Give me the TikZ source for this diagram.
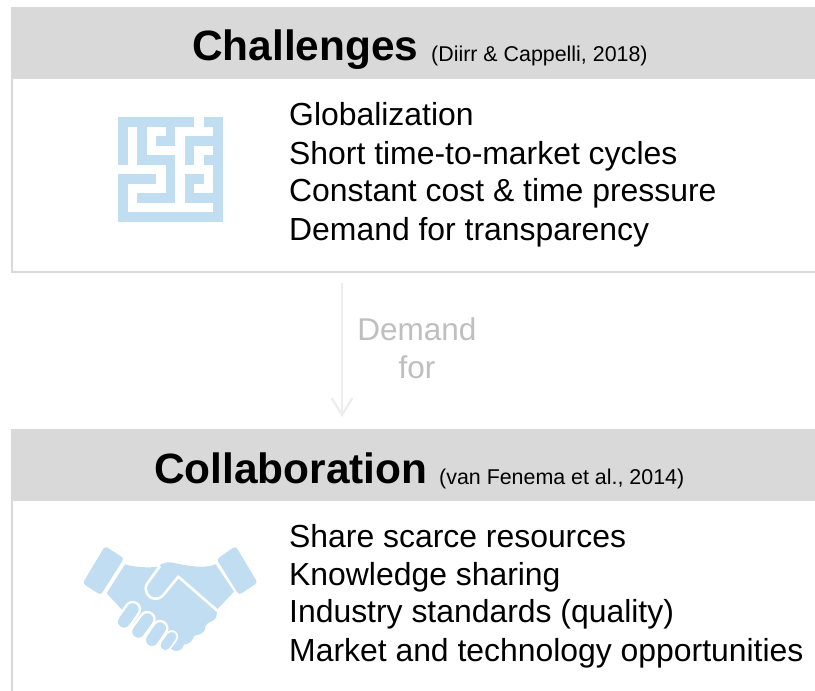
\documentclass[tikz,border=0pt]{standalone}
\usepackage{fontspec}
\setmainfont{Liberation Sans}
\usetikzlibrary{arrows.meta}
\definecolor{hdr}{HTML}{D9D9D9}
\definecolor{icon}{HTML}{C1DDF1}
\definecolor{arr}{HTML}{EDEDED}
\definecolor{lbl}{HTML}{BFBFBF}
\tikzset{
  hdrbox/.style={fill=hdr,draw=none},
  frameline/.style={draw=hdr,line width=2pt},
  ttl/.style={anchor=base west,inner sep=0pt,font=\fontsize{42.4}{42.4}\selectfont\bfseries},
  cite/.style={anchor=base west,inner sep=0pt,font=\fontsize{21.4}{21.4}\selectfont},
  item/.style={anchor=base west,inner sep=0pt,font=\fontsize{31.9}{31.9}\selectfont},
  dem/.style={anchor=base,inner sep=0pt,text=lbl,font=\fontsize{31.5}{31.5}\selectfont},
  flow/.style={draw=arr,line width=2.2pt,-{Straight Barb[length=17pt,width=21pt,line width=2.2pt]}},
  mz/.style={fill=icon,draw=none},
  finger/.style={line cap=round,draw=icon,line width=12pt},
  halo/.style={line cap=round,draw=white,line width=17pt},
  gap/.style={draw=white,line width=2.6pt}
}
\begin{document}
\begin{tikzpicture}[x=1pt,y=-1pt]
\useasboundingbox (0,0) rectangle (815,691);
\fill[white] (0,0) rectangle (815,691);
% box 1
\node[hdrbox,anchor=north west,minimum width=804pt,minimum height=72pt,inner sep=0pt] (h1) at (11,7) {};
\coordinate (b1l) at (12,272);
\coordinate (b1r) at (815,272);
\draw[frameline] (h1.south west -| b1l) -- (b1l) -- (b1r);
\node[ttl] (t1) at (192,60.5) {Challenges};
\node[cite] (c1) at (431,61.5) {(Diirr \& Cappelli, 2018)};
\node[item] (a1) at (289,125.5) {Globalization};
\node[item] (a2) at (289,164) {Short time-to-market cycles};
\node[item] (a3) at (289,201) {Constant cost \& time pressure};
\node[item] (a4) at (289,240) {Demand for transparency};
% maze
\begin{scope}[shift={(118.3,117.3)},x=9.5pt,y=-9.5pt]
\foreach \a/\b/\c/\d in {0/0/8/1, 9/0/11/1, 10/0/11/11, 0/0/1/5, 2/0/3/5, 2/4/6/5, 5/0/6/3, 4/2/6/3,
  5/4/6/9, 2/8/6/9, 7/2/8/5, 7/2/11/3, 9/4/11/5, 7/6/9/7, 7/6/8/9, 7/8/11/9,
  0/6/1/11, 0/6/4/7, 3/6/4/7, 0/10/11/11}
  \fill[mz] (\a,\b) rectangle (\c,\d);
\end{scope}
% box 2
\node[hdrbox,anchor=north west,minimum width=804pt,minimum height=72pt,inner sep=0pt] (h2) at (11,429) {};
\coordinate (b2l) at (12,691);
\draw[frameline] (h2.south west -| b2l) -- (b2l);
\node[ttl] (t2) at (154,483) {Collaboration};
\node[cite] (c2) at (439,484) {(van Fenema et al., 2014)};
\node[item] (d1) at (289,547.5) {Share scarce resources};
\node[item] (d2) at (289,585) {Knowledge sharing};
\node[item] (d3) at (289,622) {Industry standards (quality)};
\node[item] (d4) at (289,661.5) {Market and technology opportunities};
% handshake
\begin{scope}[shift={(60,530)},x=0.3333pt,y=-0.3333pt]
\fill[icon,rounded corners=3pt] (68,160) -- (135,48) -- (192,85) -- (122,195) -- cycle;
\fill[icon,rounded corners=3pt] (527,48) -- (470,88) -- (537,195) -- (593,158) -- cycle;
\fill[icon] (195,103) .. controls (225,112) and (265,114) .. (295,110)
  .. controls (305,100) and (318,96) .. (332,97)
  .. controls (375,106) and (430,118) .. (467,103)
  -- (522,185) -- (470,240)
  .. controls (472,255) and (470,268) .. (455,274)
  .. controls (440,280) and (436,285) .. (435,298)
  .. controls (430,312) and (415,314) .. (402,318)
  .. controls (398,335) and (385,342) .. (372,344)
  .. controls (368,360) and (350,370) .. (335,358)
  -- (240,300) -- (185,238) -- (140,190) -- cycle;
\draw[gap,line join=round] (300,108) -- (262,160)
  .. controls (250,180) and (262,205) .. (285,206)
  .. controls (300,207) and (308,198) .. (316,188)
  -- (355,140) -- (472,242);
\draw[halo] (218,238) -- (192,275);
\draw[finger] (218,238) -- (192,275);
\draw[halo] (262,268) -- (235,305);
\draw[finger] (262,268) -- (235,305);
\draw[halo] (300,295) -- (276,330);
\draw[finger] (300,295) -- (276,330);
\draw[halo,line width=13pt] (335,320) -- (316,346);
\draw[finger,line width=9.5pt] (335,320) -- (316,346);
\end{scope}
% connector
\coordinate (fs) at (342,283);
\draw[flow] (fs) -- (fs |- 0,417);
\node[dem] (l1) at (417,340) {Demand};
\node[dem] (l2) at (417,378) {for};
\end{tikzpicture}
\end{document}
